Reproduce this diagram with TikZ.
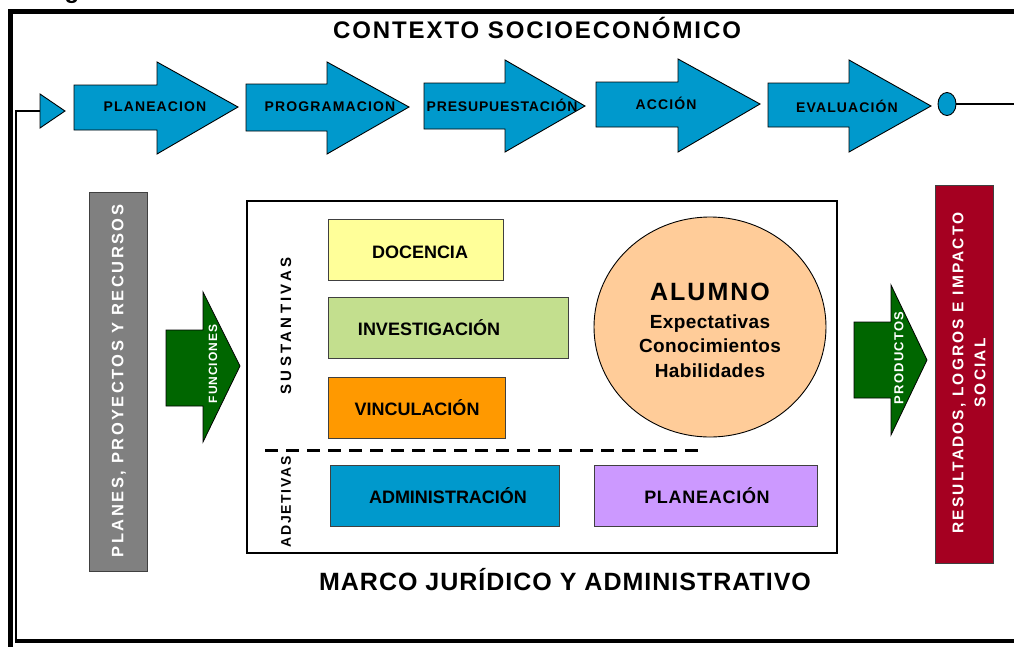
\documentclass[tikz,border=0pt]{standalone}
\usepackage{fontspec}
\setmainfont{Liberation Sans}
\usetikzlibrary{shapes.geometric}

\definecolor{procblue}{RGB}{0,153,204}
\definecolor{planesgray}{RGB}{128,128,128}
\definecolor{funcgreen}{RGB}{0,102,0}
\definecolor{resultred}{RGB}{165,0,33}
\definecolor{docyellow}{RGB}{255,255,153}
\definecolor{invgreen}{RGB}{195,223,142}
\definecolor{vincorange}{RGB}{255,153,0}
\definecolor{planlilac}{RGB}{204,153,255}
\definecolor{alumnopeach}{RGB}{255,204,153}

\begin{document}
\begin{tikzpicture}[x=1pt,y=-1pt]
			\tikzstyle{every node}+=[inner sep=0pt, font=\bfseries]
			\tikzstyle{procarrow}=[fill=procblue, draw=black, line width=0.9pt]
			\tikzstyle{greenarrow}=[fill=funcgreen, draw=black, line width=0.8pt]
			\tikzstyle{areabox}=[draw=black!75, line width=1pt]
			\tikzstyle{proclabel}=[font=\fontsize{14}{14}\selectfont\bfseries\addfontfeature{LetterSpace=8}]
			\tikzstyle{arealabel}=[font=\fontsize{18}{18}\selectfont\bfseries]
			\tikzstyle{sidelabel}=[rotate=90, white, font=\fontsize{16.5}{16.5}\selectfont\bfseries\addfontfeature{LetterSpace=15}]
			\useasboundingbox (0,0) rectangle (1014,646);
			% cut off title
			\node (cut) [anchor=base, font=\fontsize{24}{24}\selectfont\bfseries] at (72,-2) {g};
			% frame
			\draw [black, line width=4.5pt] (1030,11.5) -- (10.5,11.5) -- (10.5,650);
			\draw (537,28) node (contexto) [font=\fontsize{24}{24}\selectfont\bfseries\addfontfeature{LetterSpace=8}] {CONTEXTO SOCIOECONÓMICO};
			% process arrows
			\draw [procarrow] (40,94) -- (65,111) -- (40,128) -- cycle;
			\coordinate (loopin) at (40,111);
			\draw [procarrow] (74,85) -- (157,85) -- (157,62) -- (238,107) -- (157,154) -- (157,130) -- (74,130) -- cycle;
			\draw (155,107) node (planeacion) [proclabel] {PLANEACION};
			\draw [procarrow] (246,84) -- (327,84) -- (327,62) -- (409,107) -- (327,154) -- (327,131) -- (246,131) -- cycle;
			\draw (330,107) node (programacion) [proclabel] {PROGRAMACION};
			\draw [procarrow] (424,83) -- (505,83) -- (505,60) -- (585,106) -- (505,152) -- (505,129) -- (424,129) -- cycle;
			\draw (502,105) node (presupuestacion) [proclabel, font=\fontsize{14}{14}\selectfont\bfseries\addfontfeature{LetterSpace=6}] {PRESUPUESTACIÓN};
			\draw [procarrow] (596,82) -- (678,82) -- (678,59) -- (760,104) -- (678,152) -- (678,127) -- (596,127) -- cycle;
			\draw (666,103) node (accion) [proclabel] {ACCIÓN};
			\draw [procarrow] (768,83) -- (849,83) -- (849,60) -- (931,106) -- (849,152) -- (849,127) -- (768,127) -- cycle;
			\draw (847,106) node (evaluacion) [proclabel] {EVALUACIÓN};
			\node (fin) [ellipse, procarrow, minimum width=18, minimum height=23] at (947,104) {};
			% feedback loop
			\coordinate (loopout) at (1014,104);
			\coordinate (loopdown) at (16,641);
			\draw [black, line width=2.5pt] (fin.east) -- (loopout);
			\draw [black, line width=2.5pt] (loopdown) -- (16,111) -- (loopin);
			\draw [black, line width=4pt] (14.8,641) -- (1030,641);
			% planes
			\draw [areabox, fill=planesgray] (89,192) rectangle (147,571);
			\draw (119,381) node (planes) [sidelabel] {PLANES, PROYECTOS Y RECURSOS};
			\draw [greenarrow] (166,330) -- (203,330) -- (203,292) -- (240,366) -- (203,442) -- (203,406) -- (166,406) -- cycle;
			\draw (213,364) node (funciones) [rotate=90, white, font=\fontsize{12}{12}\selectfont\bfseries\addfontfeature{LetterSpace=8}] {FUNCIONES};
			% institution
			\draw [black, line width=2.5pt] (247,201) rectangle (837,553);
			\draw (286,326) node (sustantivas) [rotate=90, font=\fontsize{15}{15}\selectfont\bfseries\addfontfeature{LetterSpace=22}] {SUSTANTIVAS};
			\draw (286,502) node (adjetivas) [rotate=90, font=\fontsize{14}{14}\selectfont\bfseries\addfontfeature{LetterSpace=12}] {ADJETIVAS};
			\draw [areabox, fill=docyellow] (328,219) rectangle (503,280);
			\draw (420,252) node (docencia) [arealabel] {DOCENCIA};
			\draw [areabox, fill=invgreen] (328,297) rectangle (568,358);
			\draw (429,328) node (investigacion) [arealabel] {INVESTIGACIÓN};
			\draw [areabox, fill=vincorange] (328,377) rectangle (505,438);
			\draw (417,408) node (vinculacion) [arealabel] {VINCULACIÓN};
			\draw [black, line width=3pt, dash pattern=on 13pt off 8pt] (265,450) -- (700,450);
			\draw [areabox, fill=procblue] (330,465) rectangle (559,526);
			\draw (448,496) node (administracion) [arealabel] {ADMINISTRACIÓN};
			\draw [areabox, fill=planlilac] (594,465) rectangle (817,526);
			\draw (707,496) node (planeacion2) [arealabel, font=\fontsize{18}{18}\selectfont\bfseries\addfontfeature{LetterSpace=4}] {PLANEACIÓN};
			\draw [black, line width=0.9pt, fill=alumnopeach] (710,327) ellipse (116 and 110);
			\draw (710,292) node (alumno) [font=\fontsize{25}{25}\selectfont\bfseries\addfontfeature{LetterSpace=8}] {ALUMNO};
			\draw (710,346) node (rasgos) [align=center, font=\fontsize{19}{24.5}\selectfont\bfseries\addfontfeature{LetterSpace=2}] {Expectativas\\Conocimientos\\Habilidades};
			\draw (565,580) node (marco) [font=\fontsize{25}{25}\selectfont\bfseries\addfontfeature{LetterSpace=4}] {MARCO JURÍDICO Y ADMINISTRATIVO};
			% results
			\draw [greenarrow] (854,322) -- (891,322) -- (891,285) -- (927,360) -- (891,435) -- (891,398) -- (854,398) -- cycle;
			\draw (899,358) node (productos) [rotate=90, white, font=\fontsize{13}{13}\selectfont\bfseries\addfontfeature{LetterSpace=10}] {PRODUCTOS};
			\draw [areabox, fill=resultred] (935,185) rectangle (993,563);
			\draw (969,373) node (resultados) [rotate=90, white, align=center, font=\fontsize{15.5}{22}\selectfont\bfseries\addfontfeature{LetterSpace=14}] {RESULTADOS, LOGROS E IMPACTO\\SOCIAL};
\end{tikzpicture}
\end{document}
